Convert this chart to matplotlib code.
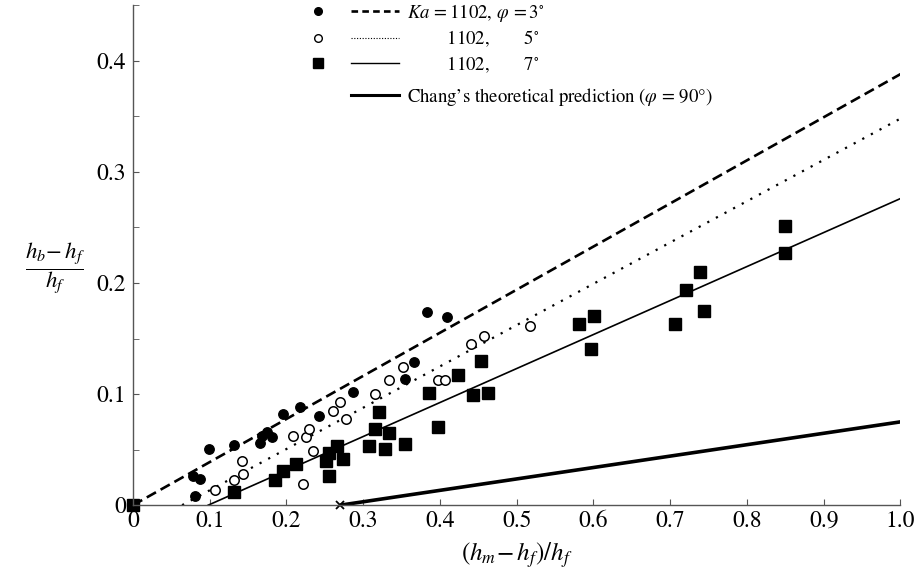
import matplotlib
matplotlib.use("Agg")
import matplotlib.pyplot as plt
from matplotlib.lines import Line2D
from matplotlib.legend_handler import HandlerTuple
from matplotlib.ticker import MultipleLocator, FuncFormatter

plt.rcParams['font.family'] = ['STIXGeneral', 'DejaVu Serif']
plt.rcParams['mathtext.fontset'] = 'stix'

# --- data ---
# phi = 3 deg (filled circles)
x_3 = [0.081, 0.078, 0.087, 0.099, 0.132, 0.166, 0.168, 0.175, 0.181, 0.195,
       0.217, 0.242, 0.287, 0.355, 0.366, 0.383, 0.409]
y_3 = [0.008, 0.026, 0.024, 0.051, 0.054, 0.056, 0.062, 0.066, 0.061, 0.082,
       0.088, 0.080, 0.102, 0.114, 0.129, 0.174, 0.169]

# phi = 5 deg (open circles)
x_5 = [0.107, 0.132, 0.144, 0.142, 0.208, 0.225, 0.230, 0.221, 0.234, 0.261,
       0.270, 0.277, 0.315, 0.334, 0.352, 0.398, 0.407, 0.440, 0.458, 0.517]
y_5 = [0.014, 0.023, 0.028, 0.040, 0.062, 0.061, 0.069, 0.019, 0.049, 0.085,
       0.093, 0.078, 0.100, 0.113, 0.124, 0.113, 0.113, 0.145, 0.152, 0.161]

# phi = 7 deg (squares)
x_7 = [0.0, 0.131, 0.185, 0.195, 0.213, 0.252, 0.255, 0.266, 0.274, 0.256,
       0.308, 0.315, 0.321, 0.334, 0.328, 0.354, 0.386, 0.397, 0.424, 0.443,
       0.454, 0.463, 0.581, 0.601, 0.597, 0.706, 0.739, 0.721, 0.744, 0.850,
       0.850]
y_7 = [0.0, 0.012, 0.023, 0.031, 0.037, 0.040, 0.047, 0.053, 0.042, 0.026,
       0.053, 0.069, 0.084, 0.065, 0.051, 0.055, 0.101, 0.070, 0.117, 0.099,
       0.130, 0.101, 0.163, 0.170, 0.141, 0.163, 0.210, 0.194, 0.175, 0.251,
       0.227]

# fitted lines
fit3_x, fit3_y = [0.0, 1.0], [0.0, 0.388]
fit5_x, fit5_y = [0.064, 1.0], [0.0, 0.348]
fit7_x, fit7_y = [0.098, 1.0], [0.0, 0.276]

# Chang's theoretical prediction
chang_x, chang_y = [0.27, 1.0], [0.0, 0.075]

fig = plt.figure(figsize=(9.17, 5.8), dpi=100)
ax = fig.add_axes([0.145, 0.129, 0.837, 0.862])

ax.plot(fit3_x, fit3_y, color='k', lw=1.9, dashes=(4, 2))
ax.plot(fit5_x, fit5_y, color='k', lw=1.6, dashes=(1, 3.4))
ax.plot(fit7_x, fit7_y, color='k', lw=1.2)
ax.plot(chang_x, chang_y, color='k', lw=2.6, solid_capstyle='butt')
ax.plot(chang_x[0], chang_y[0], marker='x', color='k', ms=6, mew=1.3,
        clip_on=False)

ax.plot(x_3, y_3, 'o', color='k', ms=6.8, clip_on=False)
ax.plot(x_5, y_5, 'o', mfc='white', mec='k', mew=1.1, ms=6.8, clip_on=False)
ax.plot(x_7, y_7, 's', color='k', ms=8.6, clip_on=False)

ax.set_xlim(0, 1.0)
ax.set_ylim(0, 0.45)

for s in ['top', 'right']:
    ax.spines[s].set_visible(False)
for s in ['left', 'bottom']:
    ax.spines[s].set_color('#555555')
    ax.spines[s].set_linewidth(1.0)

ax.xaxis.set_major_locator(MultipleLocator(0.1))
ax.yaxis.set_major_locator(MultipleLocator(0.1))
ax.yaxis.set_minor_locator(MultipleLocator(0.05))
fmt = FuncFormatter(lambda v, p: '0' if abs(v) < 1e-9 else f'{v:.1f}')
ax.xaxis.set_major_formatter(fmt)
ax.yaxis.set_major_formatter(fmt)
ax.tick_params(which='both', direction='in', length=4, color='#555555',
               labelsize=17)
ax.tick_params(axis='x', pad=4)
ax.tick_params(axis='y', pad=5)

ax.set_xlabel(r'$(h_m\!-h_f)/h_f$', fontsize=18, va='center')
ax.xaxis.set_label_coords(0.5, -0.1)
ax.set_ylabel(r'$\dfrac{h_b\!-h_f}{h_f}$', fontsize=16.5, rotation=0,
              ha='center', va='center')
ax.yaxis.set_label_coords(-0.102, 0.474)

# --- legend ---
h3 = (Line2D([], [], marker='o', ls='none', color='k', ms=5.5),
      Line2D([], [], color='k', lw=1.9, dashes=(2.5, 1.6)))
h5 = (Line2D([], [], marker='o', ls='none', mfc='white', mec='k', mew=1.0, ms=5.5),
      Line2D([], [], color='k', lw=0.8, dashes=(1, 1.5)))
h7 = (Line2D([], [], marker='s', ls='none', color='k', ms=7),
      Line2D([], [], color='k', lw=1.0))
hc = (Line2D([], [], ls='none'),
      Line2D([], [], color='k', lw=2.2))

labels = [r'$Ka\,=\mathrm{1102},\,\varphi\,=\mathrm{3}^{\circ}$',
          r'$\quad\ \ \ \ \ \;\mathrm{1102},\qquad\ \mathrm{5}^{\circ}$',
          r'$\quad\ \ \ \ \ \;\mathrm{1102},\qquad\ \mathrm{7}^{\circ}$']
leg_kw = dict(handler_map={tuple: HandlerTuple(ndivide=None, pad=0.45)},
              handlelength=5.6, handletextpad=0.42, frameon=False,
              fontsize=13.5, borderpad=0, borderaxespad=0, loc='upper left',
              bbox_transform=fig.transFigure)
leg1 = ax.legend([h3, h5, h7], labels, labelspacing=0.26,
                 bbox_to_anchor=(294 / 917, 1 - 2 / 580), **leg_kw)
ax.add_artist(leg1)
ax.legend([hc], [r"Chang’s theoretical prediction ($\varphi$ = 90°)"],
          bbox_to_anchor=(294 / 917, 1 - 86 / 580), **leg_kw)

fig.savefig('out.png', dpi=100)
